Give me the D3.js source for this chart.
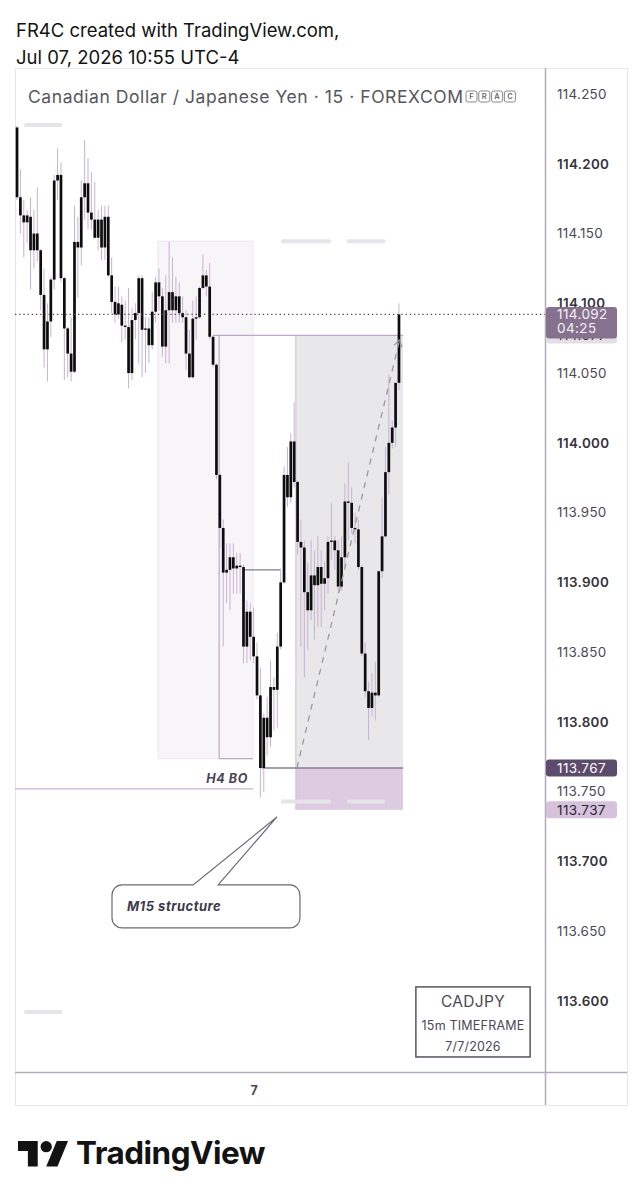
<!DOCTYPE html>
<html><head><meta charset="utf-8">
<script src="https://cdn.jsdelivr.net/npm/d3@7"></script>
<style>
html,body{margin:0;padding:0;background:#fff;}
svg{display:block;font-family:Inter,"Noto Sans",sans-serif;}
</style>
</head><body>
<svg id="chart" width="642" height="1200"></svg>
<script>
// ---------- DATA (CADJPY, 15m bars) ----------
const barStart = "2026-07-06T06:30:00";
const barMinutes = 15;
const opens = [114.226,114.176,114.163,114.158,114.162,114.138,114.150,114.138,114.106,114.067,
114.087,114.117,114.188,114.192,114.118,114.082,114.064,114.051,114.144,114.140,
114.176,114.186,114.165,114.160,114.147,114.160,114.140,114.162,114.120,114.101,
114.092,114.099,114.084,114.083,114.050,114.088,114.093,114.118,114.081,114.082,
114.070,114.094,114.115,114.105,114.069,114.095,114.108,114.095,114.105,114.093,
114.090,114.064,114.047,114.089,114.090,114.111,114.120,114.112,114.076,114.056,
113.977,113.939,113.907,113.909,113.918,113.910,113.912,113.911,113.854,113.879,
113.861,113.847,113.819,113.767,113.803,113.789,113.825,113.823,113.854,113.900,
113.977,113.961,114.001,113.972,113.929,113.925,113.893,113.880,113.905,113.898,
113.911,113.899,113.903,113.929,113.930,113.923,113.897,113.918,113.958,113.957,
113.939,113.938,113.911,113.849,113.822,113.810,113.821,113.819,113.908,113.933,
113.979,114.000,114.011,114.043];
const highs = [114.227,114.196,114.174,114.167,114.176,114.167,114.183,114.139,114.125,114.100,
114.119,114.192,114.211,114.201,114.119,114.083,114.090,114.170,114.162,114.188,
114.217,114.204,114.194,114.187,114.167,114.170,114.170,114.170,114.133,114.112,
114.112,114.105,114.102,114.111,114.097,114.100,114.120,114.120,114.090,114.090,
114.108,114.119,114.125,114.111,114.120,114.144,114.133,114.119,114.115,114.105,
114.095,114.081,114.102,114.105,114.112,114.135,114.124,114.129,114.077,114.057,
113.978,113.945,113.928,113.928,113.928,113.921,113.921,113.913,113.887,113.885,
113.882,113.857,113.839,113.806,113.818,113.844,113.832,113.864,113.910,113.983,
113.997,114.007,114.029,113.973,113.945,113.930,113.914,113.930,113.923,113.933,
113.923,113.915,113.933,113.957,113.933,113.930,113.933,113.971,113.986,113.968,
113.950,113.945,113.912,113.857,113.829,113.835,113.843,113.908,113.961,113.997,
114.049,114.016,114.043,114.100];
const lows = [114.174,114.150,114.133,114.143,114.110,114.125,114.130,114.095,114.054,114.044,
114.076,114.110,114.174,114.115,114.045,114.047,114.044,114.050,114.104,114.127,
114.160,114.153,114.153,114.146,114.138,114.131,114.131,114.119,114.093,114.086,
114.089,114.072,114.074,114.039,114.045,114.074,114.057,114.047,114.050,114.057,
114.067,114.086,114.095,114.062,114.057,114.057,114.086,114.086,114.086,114.086,
114.052,114.046,114.046,114.074,114.089,114.110,114.105,114.074,114.054,113.974,
113.925,113.854,113.885,113.880,113.892,113.892,113.892,113.842,113.842,113.844,
113.842,113.816,113.746,113.750,113.776,113.782,113.794,113.796,113.852,113.899,
113.954,113.957,113.968,113.920,113.854,113.832,113.852,113.873,113.859,113.868,
113.868,113.880,113.892,113.916,113.909,113.892,113.894,113.911,113.930,113.935,
113.928,113.909,113.847,113.818,113.787,113.804,113.801,113.818,113.903,113.932,
113.963,113.996,113.997,114.038];
const closes = [114.176,114.163,114.158,114.163,114.138,114.150,114.138,114.106,114.067,114.087,
114.117,114.188,114.192,114.118,114.082,114.064,114.051,114.144,114.140,114.176,
114.186,114.165,114.160,114.147,114.160,114.140,114.162,114.120,114.101,114.092,
114.100,114.084,114.083,114.050,114.088,114.093,114.118,114.081,114.082,114.070,
114.094,114.115,114.105,114.069,114.095,114.108,114.095,114.105,114.093,114.090,
114.064,114.047,114.089,114.090,114.111,114.120,114.112,114.076,114.056,113.977,
113.939,113.907,113.909,113.918,113.910,113.912,113.911,113.854,113.879,113.861,
113.847,113.819,113.767,113.803,113.789,113.825,113.823,113.854,113.900,113.977,
113.961,114.001,113.972,113.929,113.925,113.893,113.880,113.905,113.898,113.911,
113.899,113.903,113.929,113.930,113.923,113.897,113.918,113.958,113.957,113.939,
113.938,113.911,113.849,113.822,113.810,113.821,113.819,113.908,113.933,113.979,
114.000,114.011,114.043,114.092];

const priceTicks = [113.60,113.65,113.70,113.75,113.80,113.85,113.90,113.95,114.00,114.05,114.10,114.15,114.20,114.25];
const lastPrice = 114.092;
const barCountdown = "04:25";

// drawings (bar index, price)
const zoneBars = [41.7, 69.8];
const zonePrices = [114.1445, 113.7737];
const rangeLeftBar = 59.8;
const targetLineBars = [58, 114.2];
const positionBars = [82.5, 114.2];
const positionPrices = [114.077, 113.767, 113.737]; // target, entry, stop
const entryLineBars = [72.5, 114.2];
const structureBars = [66.9, 77.8];
const structurePrice = 113.909;
const h4Bars = [-0.6, 69.8];
const h4Price = 113.752;
const arrowBars = [82.8, 113.2];
const arrowPrices = [113.767, 114.074];
const calloutBars = [28.1, 83.7, 52.1, 59.5, 76.9];
const calloutPrices = [113.6832, 113.6524, 113.7319];
const infoBars = [118, 151.8];
const infoPrices = [113.6101, 113.5599];
const infoLines = ["CADJPY", "15m TIMEFRAME", "7/7/2026"];
const ghostBars = [[2.1,13.3],[78.1,92.9],[97.6,108.9],[78.1,92.9],[97.6,108.9],[2.1,13.3]];
const ghostPrices = [114.2278,114.1445,114.1445,113.743,113.743,113.5922];

// ---------- LAYOUT ----------
const svg = d3.select("#chart");
const panel = {l:15, t:68, r:627, b:1105};
const plot = {l:15, t:68, r:545, b:1072};

const x = d3.scaleLinear().domain([-0.6, 156.2]).range([plot.l, plot.r]);
const y = d3.scaleLinear().domain([113.60, 114.25]).range([1001, 94]);

const parseT = d3.timeParse("%Y-%m-%dT%H:%M:%S");
const t0 = parseT(barStart);
const bars = opens.map((o,i)=>({i, o, h:highs[i], l:lows[i], c:closes[i], t:d3.timeMinute.offset(t0, i*barMinutes)}));

// header
svg.append("text").attr("x",16).attr("y",37).attr("font-size",18.5).attr("fill","#131313").text("FR4C created with TradingView.com,");
svg.append("text").attr("x",16).attr("y",64).attr("font-size",18.5).attr("fill","#131313").text("Jul 07, 2026 10:55 UTC-4");

// panel
svg.append("rect").attr("x",panel.l+0.5).attr("y",panel.t+0.5).attr("width",panel.r-panel.l).attr("height",panel.b-panel.t)
  .attr("fill","#fff").attr("stroke","#e6e6ec");

const defs = svg.append("defs");
defs.append("clipPath").attr("id","pc").append("rect").attr("x",plot.l).attr("y",plot.t).attr("width",plot.r-plot.l).attr("height",plot.b-plot.t);
const g = svg.append("g").attr("clip-path","url(#pc)");

// highlight zone
g.append("rect").attr("x",x(zoneBars[0])).attr("y",y(zonePrices[0]))
  .attr("width",x(zoneBars[1])-x(zoneBars[0])).attr("height",y(zonePrices[1])-y(zonePrices[0]))
  .attr("fill","#f8f5f9").attr("stroke","#eee7f1");

// position tool
g.append("rect").attr("x",x(positionBars[0])).attr("y",y(positionPrices[0]))
  .attr("width",x(positionBars[1])-x(positionBars[0])).attr("height",y(positionPrices[1])-y(positionPrices[0]))
  .attr("fill","#e8e7ea");
g.append("rect").attr("x",x(positionBars[0])).attr("y",y(positionPrices[1]))
  .attr("width",x(positionBars[1])-x(positionBars[0])).attr("height",y(positionPrices[2])-y(positionPrices[1]))
  .attr("fill","#dccbe1");
g.append("line").attr("x1",x(positionBars[0])).attr("x2",x(positionBars[0]))
  .attr("y1",y(positionPrices[0])).attr("y2",y(positionPrices[2])).attr("stroke","#cbbfd1").attr("stroke-width",1);

// ghost labels
ghostBars.forEach((b,k)=>{
  g.append("rect").attr("x",x(b[0])).attr("y",y(ghostPrices[k])-2).attr("width",x(b[1])-x(b[0])).attr("height",4)
    .attr("rx",1.5).attr("fill","#e5e4e9");
});

// range lines
const lineC = "#bda9c7";
g.append("line").attr("x1",x(targetLineBars[0])).attr("x2",x(targetLineBars[1])).attr("y1",y(positionPrices[0])).attr("y2",y(positionPrices[0])).attr("stroke",lineC).attr("stroke-width",1.2);
g.append("polyline").attr("points",[[x(rangeLeftBar),y(positionPrices[0])],[x(rangeLeftBar),y(zonePrices[1])],[x(zoneBars[1]),y(zonePrices[1])]].map(p=>p.join(",")).join(" "))
  .attr("fill","none").attr("stroke",lineC).attr("stroke-width",1.2);
g.append("line").attr("x1",x(structureBars[0])).attr("x2",x(structureBars[1])).attr("y1",y(structurePrice)).attr("y2",y(structurePrice)).attr("stroke","#857a8d").attr("stroke-width",1.2);
g.append("line").attr("x1",x(h4Bars[0])).attr("x2",x(h4Bars[1])).attr("y1",y(h4Price)).attr("y2",y(h4Price)).attr("stroke","#c9b6d0").attr("stroke-width",1.3);
g.append("line").attr("x1",x(entryLineBars[0])).attr("x2",x(entryLineBars[1])).attr("y1",y(positionPrices[1])).attr("y2",y(positionPrices[1])).attr("stroke","#8d7a99").attr("stroke-width",1.4);

// candles
const cg = g.append("g");
const bw = 2.7;
cg.selectAll("line.w").data(bars).join("line").attr("class","w")
  .attr("x1",d=>x(d.i)).attr("x2",d=>x(d.i)).attr("y1",d=>y(d.h)).attr("y2",d=>y(d.l))
  .attr("stroke","#c8b2d2").attr("stroke-width",1);
cg.selectAll("rect.b").data(bars).join("rect").attr("class","b")
  .attr("x",d=>x(d.i)-bw/2).attr("width",bw)
  .attr("y",d=>y(Math.max(d.o,d.c)))
  .attr("height",d=>Math.max(1.2, Math.abs(y(d.o)-y(d.c))))
  .attr("fill","#0d0d0d");

// dashed arrow
const ax1 = x(arrowBars[0]), ay1 = y(arrowPrices[0]), ax2 = x(arrowBars[1]), ay2 = y(arrowPrices[1]);
g.append("line").attr("x1",ax1).attr("y1",ay1).attr("x2",ax2).attr("y2",ay2)
  .attr("stroke","#9a9a9c").attr("stroke-width",1.3).attr("stroke-dasharray","6,6");
{
  const ang = Math.atan2(ay2-ay1, ax2-ax1), L = 8;
  [Math.PI*5/6, -Math.PI*5/6].forEach(a=>{
    g.append("line").attr("x1",ax2).attr("y1",ay2)
      .attr("x2",ax2+L*Math.cos(ang+a)).attr("y2",ay2+L*Math.sin(ang+a))
      .attr("stroke","#9a9a9c").attr("stroke-width",1.3);
  });
}

// current price dotted line
g.append("line").attr("x1",plot.l).attr("x2",plot.r).attr("y1",y(lastPrice)).attr("y2",y(lastPrice))
  .attr("stroke","#4a4a4a").attr("stroke-width",1.2).attr("stroke-dasharray","1.3,2.9");

// H4 BO text
g.append("text").attr("x",x(h4Bars[1])-5).attr("y",y(h4Price)-6).attr("text-anchor","end")
  .attr("font-size",12.5).attr("font-style","italic").attr("font-weight",700).attr("letter-spacing",0.6)
  .attr("fill","#4b4357").text("H4 BO");

// callout
{
  const x0=x(calloutBars[0]), x1=x(calloutBars[1]), y0=y(calloutPrices[0]), y1=y(calloutPrices[1]);
  const b1=x(calloutBars[2]), b2=x(calloutBars[3]), tx=x(calloutBars[4]), ty=y(calloutPrices[2]);
  const r=10;
  const p = d3.path();
  p.moveTo(x0+r,y0); p.lineTo(b1,y0); p.lineTo(tx,ty); p.lineTo(b2,y0); p.lineTo(x1-r,y0);
  p.arcTo(x1,y0,x1,y0+r,r); p.lineTo(x1,y1-r); p.arcTo(x1,y1,x1-r,y1,r); p.lineTo(x0+r,y1);
  p.arcTo(x0,y1,x0,y1-r,r); p.lineTo(x0,y0+r); p.arcTo(x0,y0,x0+r,y0,r); p.closePath();
  svg.append("path").attr("d",p.toString()).attr("fill","#fff").attr("stroke","#6f6778").attr("stroke-width",1.2);
  svg.append("text").attr("x",x0+15).attr("y",(y0+y1)/2+5).attr("font-size",13).attr("font-style","italic")
    .attr("font-weight",700).attr("letter-spacing",0.5).attr("fill","#403a4b").text("M15 structure");
}

// info box
{
  const x0=x(infoBars[0]), x1=x(infoBars[1]), y0=y(infoPrices[0]), y1=y(infoPrices[1]);
  svg.append("rect").attr("x",x0).attr("y",y0).attr("width",x1-x0).attr("height",y1-y0)
    .attr("fill","#fff").attr("stroke","#5b5263").attr("stroke-width",1.5);
  const sizes=[15.5,12.5,12.5], offs=[20,43.5,64.5];
  infoLines.forEach((t,k)=>svg.append("text").attr("x",(x0+x1)/2).attr("y",y0+offs[k]).attr("text-anchor","middle")
    .attr("font-size",sizes[k]).attr("fill","#4d4757").attr("letter-spacing",k===0?0.3:0.2).text(t));
}

// title
svg.append("text").attr("x",28).attr("y",103).attr("font-size",17.5).attr("fill","#56565c")
  .attr("textLength",435).attr("lengthAdjust","spacing").text("Canadian Dollar / Japanese Yen · 15 · FOREXCOM");
["F","R","A","C"].forEach((l,k)=>{
  const bx = 466 + k*12.8;
  svg.append("rect").attr("x",bx).attr("y",91).attr("width",11).attr("height",11).attr("rx",2)
    .attr("fill","none").attr("stroke","#7a7a80").attr("stroke-width",0.9);
  svg.append("text").attr("x",bx+5.5).attr("y",99.4).attr("text-anchor","middle").attr("font-size",7.5)
    .attr("font-weight",600).attr("fill","#6a6a70").text(l);
});

// axes lines
svg.append("line").attr("x1",plot.r+0.5).attr("x2",plot.r+0.5).attr("y1",panel.t).attr("y2",panel.b).attr("stroke","#b3abba").attr("stroke-width",1.5);
svg.append("line").attr("x1",panel.l).attr("x2",panel.r).attr("y1",plot.b+0.5).attr("y2",plot.b+0.5).attr("stroke","#b3abba").attr("stroke-width",1.5);

// price axis
const yAxis = d3.axisRight(y).tickValues(priceTicks).tickSize(0).tickPadding(12).tickFormat(d3.format(".3f"));
const ya = svg.append("g").attr("transform",`translate(${plot.r},0)`).call(yAxis);
ya.select(".domain").remove();
ya.selectAll("text").attr("font-family","Inter,'Noto Sans',sans-serif").attr("font-size",13.4)
  .attr("fill",d=>Math.round(d*1000)%100===0?"#36323d":"#4c4854")
  .attr("font-weight",d=>Math.round(d*1000)%100===0?600:400)
  .attr("letter-spacing",0.3);

// time axis
const dayIdx = bars.filter(b=>b.t.getHours()===0 && b.t.getMinutes()===0).map(b=>b.i);
const xAxis = d3.axisBottom(x).tickValues(dayIdx).tickSize(0).tickPadding(14).tickFormat(i=>d3.timeFormat("%-d")(bars[i].t));
const xa = svg.append("g").attr("transform",`translate(0,${plot.b})`).call(xAxis);
xa.select(".domain").remove();
xa.selectAll("text").attr("font-family","Inter,'Noto Sans',sans-serif").attr("font-size",12.5).attr("font-weight",700).attr("fill","#4d4757");

// price tags
function tag(price, lines, fill, color, h, topOff){
  const yy = y(price);
  svg.append("rect").attr("x",plot.r+1).attr("y",yy-topOff).attr("width",71).attr("height",h).attr("rx",3).attr("fill",fill);
  lines.forEach((t,k)=>svg.append("text").attr("x",plot.r+12).attr("y",yy+5+k*13.5).attr("font-size",13.5)
    .attr("letter-spacing",0.4).attr("fill",color).text(t));
}
tag(positionPrices[0], [d3.format(".3f")(positionPrices[0])], "#e2dfe5", "#3a3540", 16, 8);
tag(lastPrice, [d3.format(".3f")(lastPrice), barCountdown], "#86728f", "#f6f1f8", 31.5, 7.5);
tag(positionPrices[1], [d3.format(".3f")(positionPrices[1])], "#5d4b6b", "#ffffff", 17, 8.5);
tag(positionPrices[2], [d3.format(".3f")(positionPrices[2])], "#d6c2dd", "#2c2733", 17, 8.5);

// TradingView logo
const lg = svg.append("g").attr("transform","translate(18,1135.4) scale(1.41)").attr("fill","#131313");
lg.append("path").attr("d","M14 22H7V11H0V4h14v18z");
lg.append("path").attr("d","M28 22h-8l7.5-18h8L28 22z");
lg.append("circle").attr("cx",20).attr("cy",8).attr("r",4);
svg.append("text").attr("x",76).attr("y",1163.5).attr("font-size",31).attr("font-weight",700)
  .attr("fill","#131313").attr("textLength",189).attr("lengthAdjust","spacingAndGlyphs").attr("letter-spacing",-0.5).text("TradingView");
</script>
</body></html>
